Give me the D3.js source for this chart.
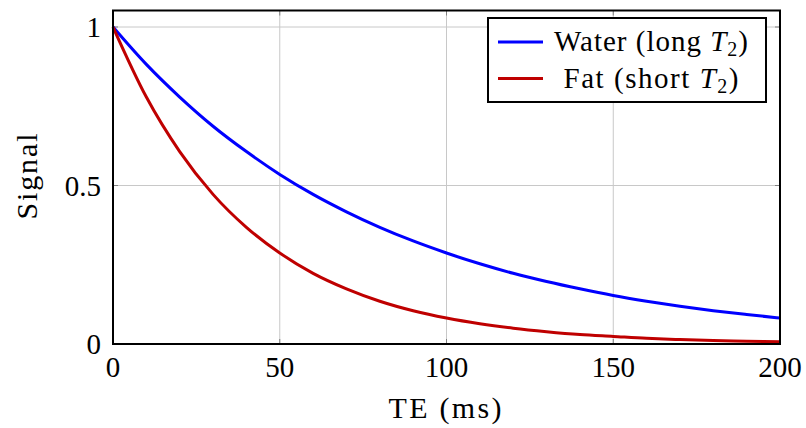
<!DOCTYPE html>
<html>
<head>
<meta charset="utf-8">
<script src="https://cdn.jsdelivr.net/npm/d3@7"></script>
<style>
  body { margin: 0; background: #fff; }
  svg text { font-family: "Liberation Serif", "Times New Roman", serif; fill: #000; }
</style>
</head>
<body>
<div id="chart"></div>
<script>
// echo time in ms, signal every 10 ms
var te = [0, 10, 20, 30, 40, 50, 60, 70, 80, 90, 100, 110, 120, 130, 140, 150, 160, 170, 180, 190, 200];
var water = [1, 0.882, 0.779, 0.687, 0.607, 0.535, 0.472, 0.417, 0.368, 0.325, 0.287,
             0.253, 0.223, 0.197, 0.174, 0.153, 0.135, 0.119, 0.105, 0.093, 0.082];
var fat = [1, 0.779, 0.607, 0.472, 0.368, 0.287, 0.223, 0.174, 0.135, 0.105, 0.082,
           0.064, 0.050, 0.039, 0.030, 0.024, 0.018, 0.014, 0.011, 0.009, 0.007];
var xTicks = [0, 50, 100, 150, 200];
var yTicks = [0, 0.5, 1];
var seriesNames = ["Water (long ", "Fat (short "];
var seriesColors = ["#0000ff", "#bf0000"];

var width = 806, height = 428;
var plotLeft = 113, plotRight = 780, plotTop = 10.5, plotBottom = 344;

var x = d3.scaleLinear().domain([0, 200]).range([plotLeft, plotRight]);
var y = d3.scaleLinear().domain([0, 1]).range([plotBottom, 27]);

var svg = d3.select("#chart").append("svg")
    .attr("width", width)
    .attr("height", height);

// grid
svg.append("g").selectAll("line")
   .data(xTicks.slice(1, -1))
   .enter().append("line")
   .attr("x1", function(d) { return x(d); })
   .attr("x2", function(d) { return x(d); })
   .attr("y1", plotTop).attr("y2", plotBottom)
   .attr("stroke", "#c8c8c8").attr("stroke-width", 1);
svg.append("g").selectAll("line")
   .data(yTicks.slice(1))
   .enter().append("line")
   .attr("x1", plotLeft).attr("x2", plotRight)
   .attr("y1", function(d) { return y(d); })
   .attr("y2", function(d) { return y(d); })
   .attr("stroke", "#c8c8c8").attr("stroke-width", 1);

// small tick marks inside the frame
var tickLen = 5;
yTicks.forEach(function(d) {
    svg.append("line").attr("x1", plotLeft).attr("x2", plotLeft + tickLen)
       .attr("y1", y(d)).attr("y2", y(d)).attr("stroke", "#808080");
    svg.append("line").attr("x1", plotRight).attr("x2", plotRight - tickLen)
       .attr("y1", y(d)).attr("y2", y(d)).attr("stroke", "#808080");
});
xTicks.forEach(function(d) {
    svg.append("line").attr("x1", x(d)).attr("x2", x(d))
       .attr("y1", plotBottom).attr("y2", plotBottom - tickLen).attr("stroke", "#808080");
    svg.append("line").attr("x1", x(d)).attr("x2", x(d))
       .attr("y1", plotTop).attr("y2", plotTop + tickLen).attr("stroke", "#808080");
});

// curves
var line = d3.line()
    .x(function(d) { return x(d[0]); })
    .y(function(d) { return y(d[1]); })
    .curve(d3.curveMonotoneX);

[water, fat].forEach(function(vals, i) {
    svg.append("path")
       .datum(d3.zip(te, vals))
       .attr("fill", "none")
       .attr("stroke", seriesColors[i])
       .attr("stroke-width", 3)
       .attr("d", line);
});

// frame
svg.append("rect")
   .attr("x", plotLeft).attr("y", plotTop)
   .attr("width", plotRight - plotLeft).attr("height", plotBottom - plotTop)
   .attr("fill", "none").attr("stroke", "#000").attr("stroke-width", 2);

// tick labels
svg.append("g").selectAll("text")
   .data(xTicks)
   .enter().append("text")
   .attr("x", function(d) { return x(d); })
   .attr("y", 377)
   .attr("text-anchor", "middle")
   .attr("font-size", 29)
   .text(function(d) { return d; });
svg.append("g").selectAll("text")
   .data(yTicks)
   .enter().append("text")
   .attr("x", 101)
   .attr("y", function(d) { return y(d) + 10; })
   .attr("text-anchor", "end")
   .attr("font-size", 29)
   .text(function(d) { return d; });

// axis titles (spaced out a bit toward the wider TeX font)
svg.append("text")
   .attr("x", 445).attr("y", 418)
   .attr("text-anchor", "middle")
   .attr("font-size", 30)
   .attr("textLength", 113)
   .attr("lengthAdjust", "spacing")
   .text("TE (ms)");
svg.append("text")
   .attr("transform", "translate(37,176.5) rotate(-90)")
   .attr("text-anchor", "middle")
   .attr("font-size", 30)
   .attr("textLength", 86)
   .attr("lengthAdjust", "spacing")
   .text("Signal");

// legend
var lg = svg.append("g");
lg.append("rect")
  .attr("x", 488).attr("y", 18).attr("width", 278).attr("height", 84)
  .attr("fill", "#fff").attr("stroke", "#000").attr("stroke-width", 2);
var legendWidths = [194, 175];
seriesNames.forEach(function(name, i) {
    var ly = 42 + i * 36.5;
    lg.append("line")
      .attr("x1", 498).attr("x2", 543).attr("y1", ly).attr("y2", ly)
      .attr("stroke", seriesColors[i]).attr("stroke-width", 3);
    var t = lg.append("text")
      .attr("x", 651).attr("y", ly + 9)
      .attr("text-anchor", "middle")
      .attr("font-size", 29)
      .attr("textLength", legendWidths[i])
      .attr("lengthAdjust", "spacing");
    t.append("tspan").text(name);
    t.append("tspan").attr("font-style", "italic").text("T");
    t.append("tspan").attr("font-size", 20).attr("dy", 5).text("2");
    t.append("tspan").attr("dy", -5).text(")");
});
</script>
</body>
</html>
